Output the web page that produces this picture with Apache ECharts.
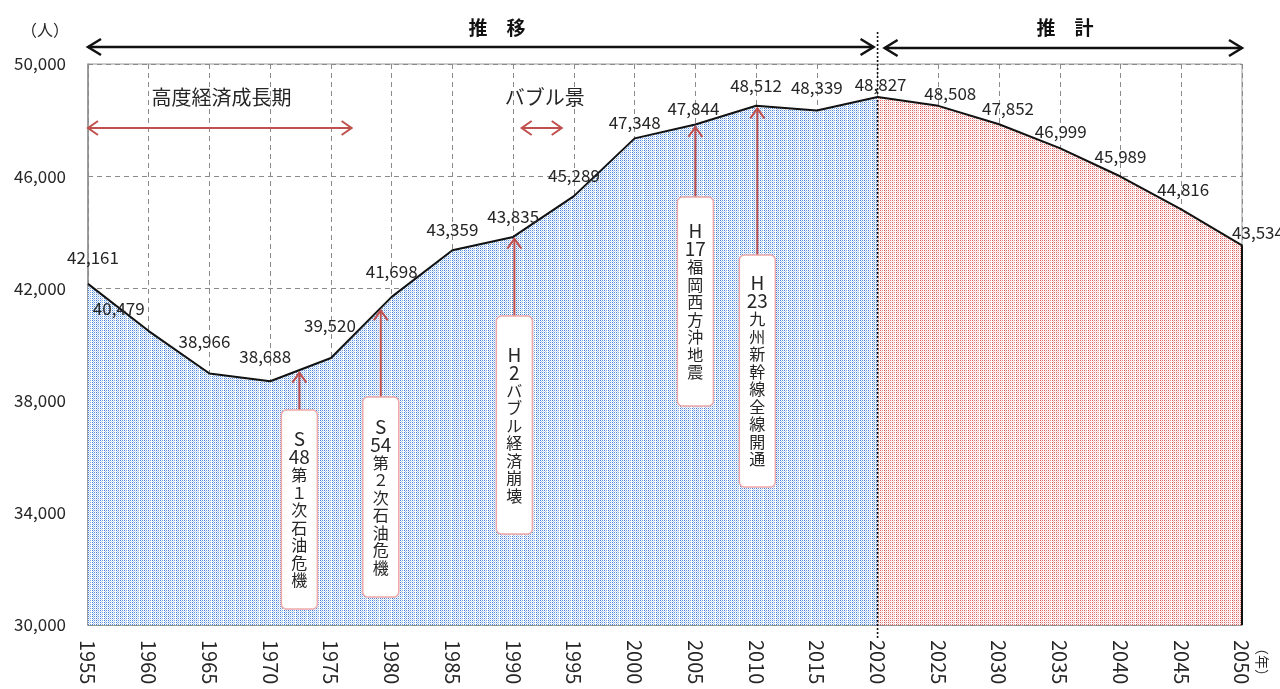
<!DOCTYPE html>
<html>
<head>
<meta charset="utf-8">
<script src="https://cdn.jsdelivr.net/npm/echarts@6/dist/echarts.min.js"></script>
<style>
  html, body { margin: 0; padding: 0; background: #fff; }
  #chart { width: 1280px; height: 689px; }
</style>
</head>
<body>
<div id="chart"></div>
<script>
// Population by year: recorded figures up to 2020, projection afterwards
const years = [1955, 1960, 1965, 1970, 1975, 1980, 1985, 1990, 1995, 2000,
               2005, 2010, 2015, 2020, 2025, 2030, 2035, 2040, 2045, 2050];
const population = [42161, 40479, 38966, 38688, 39520, 41698, 43359, 43835, 45289, 47348,
                    47844, 48512, 48339, 48827, 48508, 47852, 46999, 45989, 44816, 43534];
const lastActualYear = 2020;

const yUnit = '（人）';
const xUnit = '（年）';
const periodTitles = ['推　移', '推　計'];

// Eras marked with a range arrow
const eras = [
  { name: '高度経済成長期', from: 1955, to: 1976.7 },
  { name: 'バブル景', from: 1990.7, to: 1994.0 }
];

// Events pointed at on the line
const events = [
  { year: 1972.4, era: 'S', num: '48', text: ['第', '１', '次', '石', '油', '危', '機'] },
  { year: 1979.1, era: 'S', num: '54', text: ['第', '２', '次', '石', '油', '危', '機'] },
  { year: 1990.1, era: 'H', num: '2',  text: ['バ', 'ブ', 'ル', '経', '済', '崩', '壊'] },
  { year: 2005.0, era: 'H', num: '17', text: ['福', '岡', '西', '方', '沖', '地', '震'] },
  { year: 2010.1, era: 'H', num: '23', text: ['九', '州', '新', '幹', '線', '全', '線', '開', '通'] }
];

// ---- layout (kept apart from the data) ----
const FONT = '"Noto Sans CJK JP", "Noto Sans", sans-serif';
const TEXT = '#262626';
const RED = '#c0504d';
// label nudges [dx, dy] for each point's value label, by position in `years`
const labelShift = [[5,-12],[-30,-9],[-5,-18],[-5,-11],[-1,-18],[0,-11],[0,-7],[0,-6],[0,-7],[0,-2],
                    [-2,-2],[0,-6],[0,-9],[3,2],[12,2],[9,-2],[1,-3],[0,-6],[2,-6],[16,1]];
// callout boxes: top / bottom expressed on the value scale
const boxSpan = [[37665, 30570], [38128, 30998], [41016, 33244], [45258, 37807], [43191, 34920]];
const eraArrowValue = 47718;
const eraTextValue = 48800;

// fine vertical-streak stipple used to fill the areas
function stipple(colColors) {
  const w = colColors.length, h = 4;
  const c = document.createElement('canvas');
  c.width = w; c.height = h;
  const g = c.getContext('2d');
  g.fillStyle = '#ffffff';
  g.fillRect(0, 0, w, h);
  colColors.forEach((col, x) => {
    if (!col) return;
    for (let y = 0; y < h; y++) {
      if ((x + y) % 2 === 0) {
        g.fillStyle = col;
        g.fillRect(x, y, 1, 1);
      }
    }
  });
  return c;
}
const bluePattern = stipple(['#3f7dd4', '#b0caef', '#6497de', '#d0e0f6', '#4e88d8', '#bdd3f1',
                             '#7ba7e3', null, '#3b7ad2', '#a2c1ec', '#5d92dc', '#d8e5f7']);
const redPattern = stipple(['#dc5956', '#f5cbca', '#e47c7a', '#fae4e3', '#de625f', '#f6d2d1',
                            '#e98e8c', null, '#da5350', '#f2bebd', '#e2716e', '#fbe9e8']);

const fmt = v => v.toLocaleString('en-US');
const firstProjIndex = years.indexOf(lastActualYear);

const actualData = [], projData = [];
years.forEach((y, i) => {
  if (y <= lastActualYear) actualData.push([y, population[i]]);
  if (y >= lastActualYear) {
    projData.push(y === lastActualYear
      ? { value: [y, population[i]], label: { show: false } }
      : [y, population[i]]);
  }
});

const chart = echarts.init(document.getElementById('chart'), null, { renderer: 'canvas' });

const baseLabel = {
  show: true,
  position: 'top',
  distance: 5,
  fontFamily: FONT,
  fontSize: 17,
  color: TEXT,
  formatter: p => fmt(p.value[1])
};

const lineSeries = (name, data, pattern, startIndex) => ({
  name, type: 'line', data,
  symbol: 'circle', symbolSize: 1, showSymbol: true,
  itemStyle: { color: 'rgba(0,0,0,0)', borderWidth: 0 },
  lineStyle: { color: '#111', width: 2 },
  areaStyle: { color: { image: pattern, repeat: 'repeat' }, opacity: 1 },
  label: baseLabel,
  labelLayout: p => {
    const s = labelShift[startIndex + p.dataIndex] || [0, 0];
    return { dx: s[0], dy: s[1], hideOverlap: false };
  },
  z: 2
});

chart.setOption({
  animation: false,
  backgroundColor: '#ffffff',
  textStyle: { fontFamily: FONT },
  grid: {
    left: 88, right: 38, top: 64, bottom: 64,
    show: true, borderColor: '#9a9a9a', borderWidth: 1,
    containLabel: false, outerBoundsMode: 'none'
  },
  xAxis: {
    type: 'value', min: 1955, max: 2050, interval: 5,
    axisLine: { show: true, lineStyle: { color: '#8c8c8c', width: 1.5 } },
    axisTick: { show: false },
    axisLabel: {
      rotate: -90, margin: 15, fontSize: 20, color: TEXT, fontFamily: FONT,
      formatter: v => String(v)
    },
    splitLine: { show: true, lineStyle: { color: '#8a8a8a', type: [5, 4], width: 1 } }
  },
  yAxis: {
    type: 'value', min: 30000, max: 50000, interval: 4000,
    axisLine: { show: true, lineStyle: { color: '#8c8c8c', width: 1.5 } },
    axisTick: { show: false },
    axisLabel: { margin: 22, fontSize: 17, color: TEXT, fontFamily: FONT, formatter: v => fmt(v) },
    splitLine: { show: true, lineStyle: { color: '#8a8a8a', type: [5, 4], width: 1 } }
  },
  series: [
    lineSeries('推移', actualData, bluePattern, 0),
    lineSeries('推計', projData, redPattern, firstProjIndex)
  ]
});

// ---- overlays placed through the chart's own coordinate system ----
const px = (x, y) => chart.convertToPixel({ gridIndex: 0 }, [x, y]);
const lineAt = yr => {
  for (let i = 0; i < years.length - 1; i++) {
    if (yr >= years[i] && yr <= years[i + 1]) {
      const t = (yr - years[i]) / (years[i + 1] - years[i]);
      return population[i] + t * (population[i + 1] - population[i]);
    }
  }
  return population[population.length - 1];
};

const g = [];
const seg = (pts, color, width) => g.push({
  type: 'polyline', silent: true, z: 100,
  shape: { points: pts },
  style: { stroke: color, lineWidth: width, fill: null }
});

function doubleArrow(x1, x2, y, color, width, len, half) {
  seg([[x1, y], [x2, y]], color, width);
  seg([[x1 + len, y - half], [x1, y], [x1 + len, y + half]], color, width);
  seg([[x2 - len, y - half], [x2, y], [x2 - len, y + half]], color, width);
}

const [x1955] = px(1955, 50000);
const [x2020, yBottom] = px(lastActualYear, 30000);
const [x2050] = px(2050, 30000);

// period headers with long black arrows
doubleArrow(x1955, x2020 - 4, 47, '#111', 2.5, 13, 8);
doubleArrow(x2020 + 7, x2050, 48, '#111', 2.5, 13, 8);
g.push({ type: 'text', silent: true, z: 100, x: 497, y: 28,
  style: { text: periodTitles[0], font: 'bold 19px ' + FONT, fill: '#111', align: 'center', verticalAlign: 'middle' } });
g.push({ type: 'text', silent: true, z: 100, x: 1065, y: 28,
  style: { text: periodTitles[1], font: 'bold 19px ' + FONT, fill: '#111', align: 'center', verticalAlign: 'middle' } });

// dotted divider between record and projection
g.push({ type: 'line', silent: true, z: 101,
  shape: { x1: x2020, y1: 32, x2: x2020, y2: yBottom + 15 },
  style: { stroke: '#111', lineWidth: 1.6, lineDash: [2, 2] } });

// closing edge of the projection area
const pEnd = px(2050, population[population.length - 1]);
seg([[pEnd[0], pEnd[1]], [pEnd[0], yBottom]], '#111', 2);

// axis units
g.push({ type: 'text', silent: true, z: 100, x: 45, y: 30,
  style: { text: yUnit, font: '16px ' + FONT, fill: TEXT, align: 'center', verticalAlign: 'middle' } });
g.push({ type: 'text', silent: true, z: 100, x: x2050 + 20, y: yBottom + 16, rotation: -Math.PI / 2,
  style: { text: xUnit, font: '14px ' + FONT, fill: TEXT, align: 'left', verticalAlign: 'middle' } });

// era ranges
eras.forEach(e => {
  const a = px(e.from, eraArrowValue), b = px(e.to, eraArrowValue);
  doubleArrow(a[0], b[0], a[1], RED, 2, 10, 7);
});
g.push({ type: 'text', silent: true, z: 100, x: px(1966.0, 0)[0], y: px(1966, eraTextValue)[1],
  style: { text: eras[0].name, font: '20px ' + FONT, fill: TEXT, align: 'center', verticalAlign: 'middle' } });
g.push({ type: 'text', silent: true, z: 100, x: px(1992.6, 0)[0], y: px(1992.6, eraTextValue)[1],
  style: { text: eras[1].name, font: '20px ' + FONT, fill: TEXT, align: 'center', verticalAlign: 'middle' } });

// event callouts
events.forEach((ev, i) => {
  const [cx, top] = px(ev.year, boxSpan[i][0]);
  const bottom = px(ev.year, boxSpan[i][1])[1];
  const tip = px(ev.year, lineAt(ev.year) - 90)[1];
  const w = 36;
  seg([[cx, top], [cx, tip]], RED, 2);
  seg([[cx - 7, tip + 10], [cx, tip], [cx + 7, tip + 10]], RED, 2);
  g.push({ type: 'rect', silent: true, z: 100,
    shape: { x: cx - w / 2, y: top, width: w, height: bottom - top, r: 5 },
    style: { fill: '#ffffff', stroke: '#f0a9a8', lineWidth: 1.5 } });
  const lines = ['{lat|' + ev.era + '}', '{lat|' + ev.num + '}']
    .concat(ev.text.map(ch => '{cj|' + ch + '}'));
  g.push({ type: 'text', silent: true, z: 101, x: cx, y: (top + bottom) / 2,
    style: {
      text: lines.join('\n'), align: 'center', verticalAlign: 'middle', fill: TEXT,
      rich: {
        lat: { fontFamily: FONT, fontSize: 19, lineHeight: 18, fill: TEXT, align: 'center' },
        cj: { fontFamily: FONT, fontSize: 16, lineHeight: 17.5, fill: TEXT, align: 'center' }
      }
    } });
});

chart.setOption({ graphic: { elements: g } });
</script>
</body>
</html>
